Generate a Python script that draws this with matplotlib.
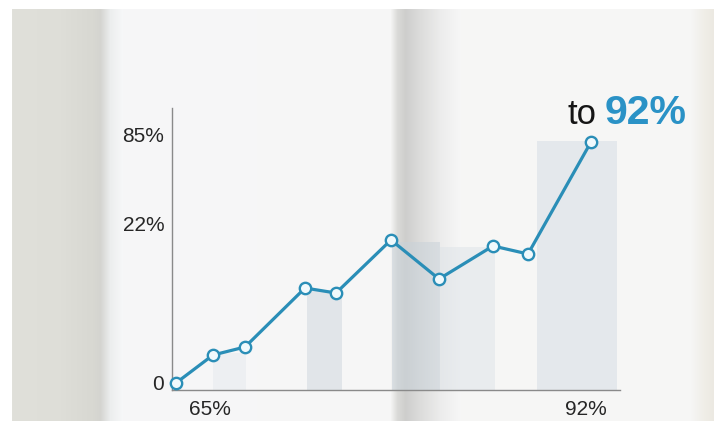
import numpy as np
import matplotlib
matplotlib.use("Agg")
import matplotlib.pyplot as plt

# ---------------- data ----------------
x_vals = [0, 37, 69, 129, 160, 215, 263, 317, 352, 415]
y_vals = [0.0, 3.87, 4.98, 13.14, 12.45, 19.79, 14.39, 18.96, 17.85, 33.35]

bar_left = [37, 131, 216, 264, 361]
bar_right = [70, 166, 264, 319, 441]
bar_top = [4.2, 12.9, 19.5, 18.8, 33.5]
bar_colors = ["#e4e8ec", "#d3dbe1", "#c9d2d9", "#dde3e8", "#d8e0e6"]
bar_alpha = [0.45, 0.6, 0.55, 0.5, 0.6]

y_tick_pos = [0, 22, 34.4]
y_tick_labels = ["0", "22%", "85%"]
x_tick_pos = [33.5, 410]
x_tick_labels = ["65%", "92%"]

title_prefix = "to"
title_value = "92%"

# ---------------- figure ----------------
W, H = 714, 421
fig = plt.figure(figsize=(W / 100, H / 100), dpi=100)
plt.rcParams['font.family'] = ['Liberation Sans', 'DejaVu Sans']

# blurred photo-like background
bg_ax = fig.add_axes([0, 0, 1, 1], zorder=0)
bg_ax.set_axis_off()
px = np.arange(W)
ax_pts = [0, 11, 12, 60, 92, 100, 110, 122, 390, 397, 405, 420, 440, 460, 690, 703, 713]
r_pts = [255, 255, 224, 222, 216, 212, 236, 246, 246, 218, 206, 220, 236, 246, 246, 240, 236]
g_pts = [255, 255, 224, 222, 216, 212, 238, 247, 246, 218, 206, 220, 236, 246, 246, 238, 233]
b_pts = [255, 255, 218, 216, 210, 208, 238, 248, 246, 216, 204, 219, 236, 246, 245, 232, 226]
row = np.stack([np.interp(px, ax_pts, r_pts),
                np.interp(px, ax_pts, g_pts),
                np.interp(px, ax_pts, b_pts)], axis=-1) / 255.0
img = np.repeat(row[None, :, :], H, axis=0)
img[:9, :, :] = 1.0
bg_ax.imshow(img, aspect='auto', extent=[0, 1, 0, 1], interpolation='bilinear')
bg_ax.set_xlim(0, 1)
bg_ax.set_ylim(0, 1)

# main axes in pixel placement
left_px, right_px, top_px, bottom_px = 172, 620, 108, 390
ax = fig.add_axes([left_px / W, (H - bottom_px) / H,
                   (right_px - left_px) / W, (bottom_px - top_px) / H], zorder=1)
ax.patch.set_alpha(0)

ybottom = -0.97
ax.set_ylim(ybottom, 38.05)
ax.set_xlim(-4, 444)

for l, r, t, c, a in zip(bar_left, bar_right, bar_top, bar_colors, bar_alpha):
    ax.bar(l, t - ybottom, width=r - l, bottom=ybottom, align='edge',
           color=c, alpha=a, linewidth=0, zorder=1)

ax.plot(x_vals, y_vals, color="#2a8eb7", lw=2.3, zorder=3,
        marker='o', ms=8.2, mfc="#f0f9fc", mec="#2a8eb7", mew=1.7,
        solid_joinstyle='round', clip_on=False)

for s in ["top", "right"]:
    ax.spines[s].set_visible(False)
for s in ["left", "bottom"]:
    ax.spines[s].set_color("#8a8a8a")
    ax.spines[s].set_linewidth(1.0)

ax.set_yticks(y_tick_pos)
ax.set_yticklabels(y_tick_labels)
ax.set_xticks(x_tick_pos)
ax.set_xticklabels(x_tick_labels)
ax.tick_params(axis='y', length=0, pad=5.5, labelsize=15, labelcolor="#262626")
ax.tick_params(axis='x', length=0, pad=7, labelsize=15, labelcolor="#262626")

# headline annotation
base_y = (H - 124) / H
fig.text(567 / W, base_y, title_prefix, fontsize=25, color="#151515",
         ha='left', va='baseline', zorder=5)
fig.text(605 / W, base_y, title_value, fontsize=29.5, color="#2a92c6",
         fontweight='bold', ha='left', va='baseline', zorder=5)

fig.savefig("out.png", dpi=100)
